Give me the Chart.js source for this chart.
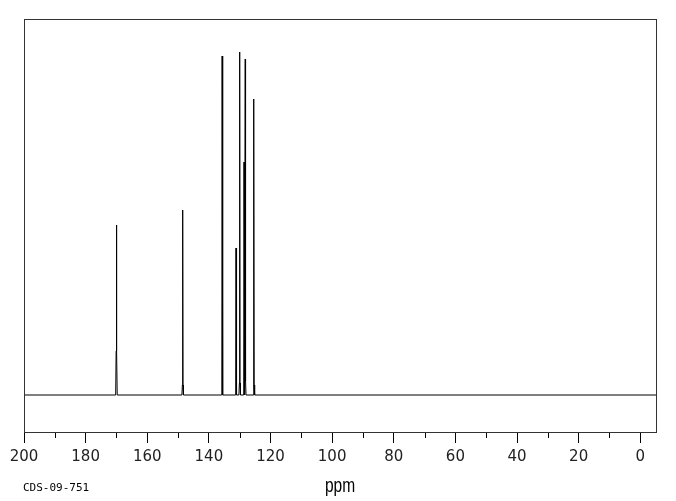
<!DOCTYPE html>
<html>
<head>
<meta charset="utf-8">
<script src="https://cdn.jsdelivr.net/npm/chart.js@4.4.0/dist/chart.umd.min.js"></script>
<style>
  html, body { margin: 0; padding: 0; background: #fff; }
  canvas { display: block; }
</style>
</head>
<body>
<canvas id="nmr" width="676" height="501"></canvas>
<script>
// peak positions (ppm), peak heights and the small broad foot under each line
const peakPpm    = [170.0, 148.5, 135.7, 131.2, 130.0, 128.6, 128.2, 125.4];
const peakHeight = [170,   185,   339,   147,   343,   233,   336,   296];
const peakFoot   = [44,    10,    18,    16,    12,    14,    14,    10];

const xMax = 200;
const xMin = -5.1;
const yMin = -37;
const yMax = 376;
const axisTitle = 'ppm';
const sampleId = 'CDS-09-751';

// spectrum polyline: flat baseline with a sharp line at every peak
const points = [{ x: xMax, y: 0 }];
peakPpm.forEach((p, i) => {
  points.push({ x: p + 0.25, y: 0 });
  points.push({ x: p + 0.1, y: peakFoot[i] });
  points.push({ x: p, y: peakHeight[i] });
  points.push({ x: p - 0.1, y: peakFoot[i] });
  points.push({ x: p - 0.25, y: 0 });
});
points.push({ x: xMin, y: 0 });
points.sort((a, b) => b.x - a.x);

const frameAndText = {
  id: 'frameAndText',
  afterDraw(chart) {
    const { ctx, chartArea } = chart;
    const xs = chart.scales.x;
    ctx.save();
    // minor ticks
    ctx.strokeStyle = '#000';
    ctx.lineWidth = 1;
    xs.ticks.forEach((t) => {
      if (t.value % 20 !== 0) {
        const px = Math.round(xs.getPixelForValue(t.value)) + 0.5;
        ctx.beginPath();
        ctx.moveTo(px, chartArea.bottom);
        ctx.lineTo(px, chartArea.bottom + 6);
        ctx.stroke();
      }
    });
    // frame
    ctx.strokeStyle = '#333';
    ctx.strokeRect(Math.round(chartArea.left) + 0.5, Math.round(chartArea.top) + 0.5,
      Math.round(chartArea.right - chartArea.left), Math.round(chartArea.bottom - chartArea.top));
    // axis title, narrow
    ctx.fillStyle = '#000';
    ctx.textBaseline = 'alphabetic';
    ctx.textAlign = 'center';
    ctx.font = '21px "Liberation Sans", sans-serif';
    ctx.save();
    ctx.translate(340, 492);
    ctx.scale(0.74, 1);
    ctx.fillText(axisTitle, 0, 0);
    ctx.restore();
    ctx.textAlign = 'left';
    ctx.font = '11px "DejaVu Sans Mono", monospace';
    ctx.fillText(sampleId, 23, 491);
    ctx.restore();
  }
};

new Chart(document.getElementById('nmr'), {
  type: 'line',
  data: {
    datasets: [{
      data: points,
      borderColor: '#000',
      borderWidth: 1,
      pointRadius: 0,
      tension: 0,
      fill: false
    }]
  },
  options: {
    responsive: false,
    animation: false,
    parsing: false,
    layout: { padding: { left: 24, right: 20, top: 19, bottom: 0 } },
    plugins: { legend: { display: false }, tooltip: { enabled: false } },
    scales: {
      x: {
        type: 'linear',
        reverse: true,
        min: xMin,
        max: xMax,
        afterFit: (scale) => { scale.height = 69; },
        border: { display: false },
        grid: {
          drawOnChartArea: false,
          tickLength: 11,
          tickColor: (c) => (c.tick && c.tick.value % 20 === 0 ? '#000' : 'rgba(0,0,0,0)')
        },
        ticks: {
          stepSize: 10,
          includeBounds: false,
          autoSkip: false,
          maxRotation: 0,
          padding: 5,
          color: '#222',
          font: { family: '"DejaVu Sans", sans-serif', size: 15 },
          callback: (v) => (v % 20 === 0 ? String(v) : '')
        }
      },
      y: {
        display: false,
        min: yMin,
        max: yMax
      }
    }
  },
  plugins: [frameAndText]
});
</script>
</body>
</html>
